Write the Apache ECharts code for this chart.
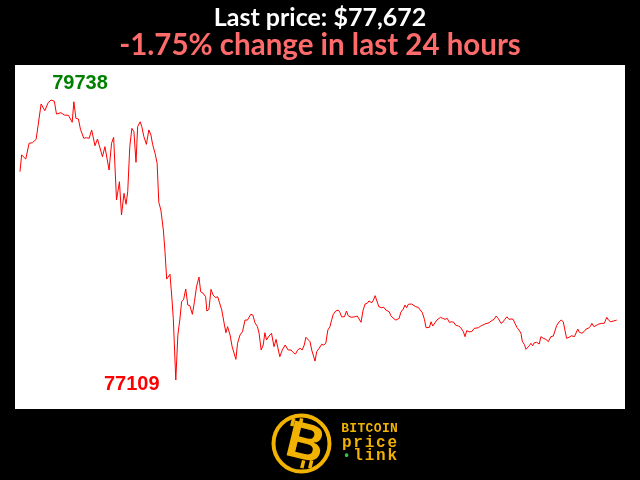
<!DOCTYPE html>
<html>
<head>
<meta charset="utf-8">
<script src="https://cdn.jsdelivr.net/npm/echarts@6/dist/echarts.min.js"></script>
<style>
html,body{margin:0;padding:0;background:#000;}
#chart{width:640px;height:480px;}
</style>
</head>
<body>
<div id="chart"></div>
<script>
// Minutes since start of the 24h window
const times = [0,4,14,22,30,34,39,43,51,60,68,75,83,88,92,99,107,117,121,126,130,135,141,146,150,154,160,167,173,181,187,191,199,205,215,221,226,229,233,240,245,251,256,260,265,270,275,280,284,290,294,299,305,311,316,320,326,331,335,340,346,350,354,358,362,366,370,376,381,386,390,395,400,405,410,416,421,426,432,436,442,448,451,456,461,466,472,477,481,487,492,497,501,507,512,516,521,525,531,537,543,549,553,557,562,567,573,577,582,587,591,595,601,607,613,618,622,627,633,640,644,647,654,660,665,670,676,681,686,690,694,700,704,708,712,716,722,728,733,738,743,748,752,756,762,768,772,776,783,788,792,799,803,808,814,818,823,828,833,838,842,849,853,857,861,866,873,878,883,886,891,895,901,907,911,915,919,925,929,933,937,941,945,949,955,961,965,971,976,980,984,988,992,996,1000,1006,1010,1015,1020,1026,1031,1036,1042,1047,1051,1058,1063,1070,1074,1078,1084,1090,1096,1100,1106,1112,1117,1122,1126,1132,1138,1144,1149,1154,1161,1166,1170,1175,1180,1185,1190,1195,1199,1204,1209,1212,1217,1221,1225,1229,1233,1237,1241,1247,1253,1257,1263,1269,1275,1281,1287,1291,1295,1301,1306,1311,1315,1319,1325,1331,1338,1342,1346,1350,1356,1361,1366,1371,1376,1380,1385,1392,1397,1404,1410,1416,1420,1426,1430,1440];
// BTC price (USD)
const prices = [79065,79222,79184,79332,79337,79332,79369,79369,79701,79638,79713,79738,79726,79607,79607,79619,79597,79595,79581,79529,79722,79566,79560,79463,79463,79379,79384,79379,79457,79309,79372,79363,79206,79300,79081,79332,79388,79388,78799,78971,78658,78862,78759,78877,79300,79472,79440,79153,79488,79534,79488,79394,79322,79457,79410,79322,79238,79144,78778,78705,78518,78314,78057,78070,78102,77907,77688,77109,77532,77682,77844,77867,77964,77813,77807,77726,77844,77985,78076,77938,77923,77891,77757,77773,77961,77907,77882,77891,77841,77766,77656,77553,77610,77532,77422,77407,77303,77454,77532,77563,77672,77672,77656,77726,77719,77647,77610,77548,77391,77438,77553,77485,77522,77548,77422,77491,77506,77328,77391,77438,77444,77391,77391,77365,77353,77391,77407,77391,77438,77510,77510,77469,77391,77375,77287,77375,77407,77444,77438,77454,77579,77610,77672,77726,77757,77766,77745,77703,77703,77757,77713,77698,77713,77703,77710,77698,77651,77766,77823,77829,77851,77835,77860,77901,77891,77797,77788,77792,77766,77776,77750,77713,77688,77672,77663,77688,77745,77776,77813,77788,77820,77813,77823,77807,77797,77792,77804,77741,77679,77600,77616,77604,77656,77616,77632,77672,77666,77698,77688,77679,77688,77651,77656,77651,77625,77616,77604,77563,77516,77572,77563,77563,77594,77610,77600,77616,77625,77635,77641,77647,77666,77679,77710,77688,77641,77656,77679,77703,77679,77682,77679,77637,77605,77579,77548,77475,77444,77397,77381,77431,77454,77431,77459,77463,77447,77516,77501,77491,77469,77516,77522,77522,77619,77656,77672,77656,77663,77501,77510,77525,77516,77516,77588,77557,77548,77563,77588,77594,77610,77641,77610,77625,77635,77641,77641,77698,77672,77656,77672,77672];
const titleText = 'Last price: $77,672';
const subText = '-1.75% change in last 24 hours';
const logoWords = ['BITCOIN', 'price', '\u2022link'];

const chart = echarts.init(document.getElementById('chart'), null, {renderer: 'canvas'});
const seriesData = times.map((t, i) => [t, prices[i]]);

const gold = '#f2b200';
const graphics = [
  {type: 'circle', shape: {cx: 301.5, cy: 443.5, r: 28}, style: {fill: '#000', stroke: gold, lineWidth: 4}},
  {type: 'rect', x: 292, y: 418, rotation: -0.24, shape: {width: 3.5, height: 8}, style: {fill: gold}},
  {type: 'rect', x: 300, y: 418, rotation: -0.24, shape: {width: 3.5, height: 8}, style: {fill: gold}},
  {type: 'rect', x: 302, y: 460, rotation: -0.24, shape: {width: 3.5, height: 8}, style: {fill: gold}},
  {type: 'rect', x: 310, y: 460, rotation: -0.24, shape: {width: 3.5, height: 8}, style: {fill: gold}},
  {type: 'text', x: 305, y: 445, rotation: -0.24, style: {text: 'B', font: 'bold 52px "Liberation Sans"', fill: gold, align: 'center', verticalAlign: 'middle'}}
];
// logo words, each spread over the same width
const rowY = [429, 443, 456];
const rowFont = ['bold 13px "Liberation Mono"', 'bold 16px "Liberation Mono"', 'bold 16px "Liberation Mono"'];
logoWords.forEach((w, r) => {
  const chars = Array.from(w);
  const x0 = 341, x1 = 398;
  const step = (x1 - x0) / chars.length;
  chars.forEach((c, k) => {
    graphics.push({type: 'text', x: x0 + step * (k + 0.5), y: rowY[r],
      style: {text: c, font: (c === '\u2022') ? 'bold 12px "Liberation Mono"' : rowFont[r], fill: (c === '\u2022') ? '#2ecc40' : gold, align: 'center', verticalAlign: 'middle'}});
  });
});

chart.setOption({
  backgroundColor: '#000',
  animation: false,
  title: [
    {text: titleText, left: 'center', top: 0, textStyle: {color: '#fff', fontSize: 25, fontWeight: 'bold', fontFamily: 'Lato'}},
    {text: subText, left: 'center', top: 25, textStyle: {color: '#ff6b6b', fontSize: 29.5, fontWeight: 'bold', fontFamily: 'Lato'}}
  ],
  grid: {left: 15, top: 65, width: 610, height: 344, show: true, backgroundColor: '#fff', borderWidth: 0},
  xAxis: {type: 'value', min: -12, max: 1460, show: false},
  yAxis: {type: 'value', min: 76837, max: 80067, show: false},
  series: [{
    type: 'line',
    data: seriesData,
    showSymbol: false,
    lineStyle: {color: '#ff0000', width: 1},
    itemStyle: {color: '#ff0000'},
    markPoint: {
      symbol: 'circle', symbolSize: 1,
      itemStyle: {color: 'rgba(0,0,0,0)'},
      data: [
        {type: 'max', label: {show: true, position: 'inside', offset: [29, -17], formatter: '{c}', color: '#008000', fontSize: 20, fontWeight: 'bold', fontFamily: 'Liberation Sans'}},
        {type: 'min', label: {show: true, position: 'inside', offset: [-44, 4], formatter: '{c}', color: '#ff0000', fontSize: 20, fontWeight: 'bold', fontFamily: 'Liberation Sans'}}
      ]
    }
  }],
  graphic: graphics
});
</script>
</body>
</html>
